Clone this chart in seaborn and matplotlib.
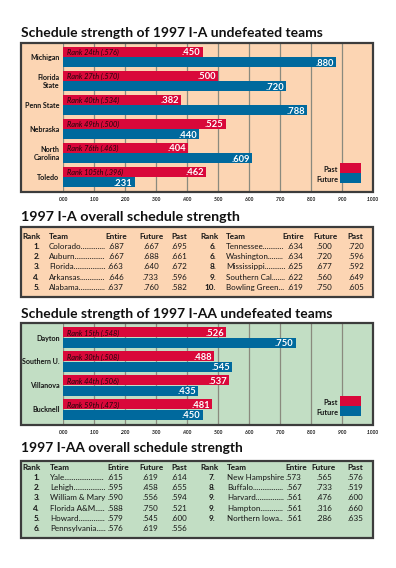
import numpy as np
import pandas as pd
import matplotlib
matplotlib.use('Agg')
import matplotlib.pyplot as plt
import seaborn as sns
from matplotlib import font_manager as fm
from matplotlib.patches import Rectangle
from matplotlib.transforms import Affine2D

# ---------------- data ----------------
ia_teams = ["Michigan", "Florida\nState", "Penn State", "Nebraska", "North\nCarolina", "Toledo"]
ia_past = [0.450, 0.500, 0.382, 0.525, 0.404, 0.462]
ia_future = [0.880, 0.720, 0.788, 0.440, 0.609, 0.231]
ia_rank = ["Rank 24th (.576)", "Rank 27th (.570)", "Rank 40th (.534)",
           "Rank 49th (.500)", "Rank 76th (.463)", "Rank 105th (.396)"]

iaa_teams = ["Dayton", "Southern U.", "Villanova", "Bucknell"]
iaa_past = [0.526, 0.488, 0.537, 0.481]
iaa_future = [0.750, 0.545, 0.435, 0.450]
iaa_rank = ["Rank 15th (.548)", "Rank 30th (.508)", "Rank 44th (.506)", "Rank 59th (.473)"]

tick_values = [0.0, 0.1, 0.2, 0.3, 0.4, 0.5, 0.6, 0.7, 0.8, 0.9, 1.0]
tick_labels = [".000", ".100", ".200", ".300", ".400", ".500", ".600", ".700", ".800", ".900", ".1000"]

series_names = ["Past", "Future"]

ia_tbl_rank = ["1.", "2.", "3.", "4.", "5.", "6.", "6.", "8.", "9.", "10."]
ia_tbl_team = ["Colorado", "Auburn", "Florida", "Arkansas", "Alabama",
               "Tennessee", "Washington", "Mississippi", "Southern Cal", "Bowling Green"]
ia_tbl_entire = [0.687, 0.667, 0.663, 0.646, 0.637, 0.634, 0.634, 0.625, 0.622, 0.619]
ia_tbl_future = [0.667, 0.688, 0.640, 0.733, 0.760, 0.500, 0.720, 0.677, 0.560, 0.750]
ia_tbl_past = [0.695, 0.661, 0.672, 0.596, 0.582, 0.720, 0.596, 0.592, 0.649, 0.605]

iaa_tbl_rank = ["1.", "2.", "3.", "4.", "5.", "6.", "7.", "8.", "9.", "9.", "9."]
iaa_tbl_team = ["Yale", "Lehigh", "William & Mary", "Florida A&M", "Howard", "Pennsylvania",
                "New Hampshire", "Buffalo", "Harvard", "Hampton", "Northern Iowa"]
iaa_tbl_entire = [0.615, 0.595, 0.590, 0.588, 0.579, 0.576, 0.573, 0.567, 0.561, 0.561, 0.561]
iaa_tbl_future = [0.619, 0.458, 0.556, 0.750, 0.545, 0.619, 0.565, 0.733, 0.476, 0.316, 0.286]
iaa_tbl_past = [0.614, 0.655, 0.594, 0.521, 0.600, 0.556, 0.576, 0.519, 0.600, 0.660, 0.635]

titles = ["Schedule strength of 1997 I-A undefeated teams",
          "1997 I-A overall schedule strength",
          "Schedule strength of 1997 I-AA undefeated teams",
          "1997 I-AA overall schedule strength"]
headers = ["Rank", "Team", "Entire", "Future", "Past"]

# ---------------- style ----------------
sns.set_theme(style='white')
names = {f.name for f in fm.fontManager.ttflist}


def pick(*cands):
    for c in cands:
        if c in names:
            return c
    return 'DejaVu Sans'


HUM = pick('Lato', 'Open Sans', 'Noto Sans', 'DejaVu Sans')
plt.rcParams['font.family'] = [HUM, 'DejaVu Sans']

RED = '#D9083A'
BLUE = '#00699D'
PEACH = '#FCD5B3'
GREEN = '#C2DEC4'
EDGE = '#3c3c3c'
GRID = '#8a8a7e'
INK = '#161616'

W, H = 396, 568
fig = plt.figure(figsize=(W / 100, H / 100), dpi=100, facecolor='white')
PX = Affine2D().scale(1 / W, -1 / H).translate(0, 1) + fig.transFigure
REN = fig.canvas.get_renderer()


def tw(s, **kw):
    t = fig.text(0, 0, s, **kw)
    w = t.get_window_extent(REN).width
    t.remove()
    return w


def fit(s, target, **kw):
    return 10.0 * target / tw(s, fontsize=10, **kw)


def put(x, y, s, **kw):
    kw.setdefault('va', 'baseline')
    kw.setdefault('color', INK)
    return fig.text(x, y, s, transform=PX, **kw)


def frame(x0, y0, x1, y1, fc):
    fig.add_artist(Rectangle((x0, y0), x1 - x0, y1 - y0, transform=PX,
                             facecolor=fc, edgecolor='none', zorder=-5))
    fig.add_artist(Rectangle((x0, y0), x1 - x0, y1 - y0, transform=PX,
                             facecolor='none', edgecolor=EDGE, lw=1.6, zorder=5))


def fmt(v):
    return f"{v:.3f}"[1:]


fs_tick = fit('.500', 9.5, fontweight='bold')
fs_val = fit('.880', 18.5, fontweight='bold')
fs_team = fit('Penn State', 35, fontweight='bold')
fs_rank = fit('Rank 24th (.576)', 52, style='italic')
fs_leg = fit('Future', 22, fontweight='bold')
fs_row = fit('Colorado', 32.5)
fs_hdr = fit('Entire', 22, fontweight='bold')


def bar_chart(top, bottom, teams, past, future, ranks, first_c, leg_top, spacing=24.0):
    n = len(teams)
    ax = fig.add_axes([63 / W, 1 - bottom / H, 310 / W, (bottom - top) / H])
    ax.set_facecolor('none')
    df = pd.DataFrame({'team': teams * 2,
                       'series': [series_names[0]] * n + [series_names[1]] * n,
                       'value': past + future})
    sns.barplot(data=df, x='value', y='team', hue='series', hue_order=series_names,
                palette={series_names[0]: RED, series_names[1]: BLUE}, orient='h',
                width=0.84, gap=0, saturation=1, errorbar=None, legend=False, ax=ax,
                linewidth=0)
    ax.set_xlim(0, 1)
    last_c = first_c + (n - 1) * spacing
    ax.set_ylim((n - 1) + (bottom - last_c) / spacing, -(first_c - top) / spacing)
    ax.set_xticks(tick_values)
    ax.set_xticklabels(tick_labels)
    ax.grid(axis='x', color=GRID, linewidth=0.9)
    ax.grid(axis='y', visible=False)
    ax.set_axisbelow(True)
    for s in ax.spines.values():
        s.set_visible(False)
    ax.set_xlabel('')
    ax.set_ylabel('')
    ax.tick_params(axis='x', length=0, pad=3.5, labelsize=fs_tick, labelcolor=INK)
    ax.tick_params(axis='y', length=0, pad=2.5, labelsize=fs_team, labelcolor=INK)
    for lbl in ax.get_xticklabels():
        lbl.set_fontweight('bold')
    for lbl in ax.get_yticklabels():
        lbl.set_fontweight('bold')
        lbl.set_multialignment('right')
        lbl.set_linespacing(1.0)
    off = 0.84 / 4
    for i in range(n):
        ax.annotate(fmt(past[i]), xy=(past[i], i - off), xytext=(-2, 0),
                    textcoords='offset pixels', ha='right', va='center_baseline',
                    color='white', fontweight='bold', fontsize=fs_val)
        ax.annotate(fmt(future[i]), xy=(future[i], i + off), xytext=(-2, 0),
                    textcoords='offset pixels', ha='right', va='center_baseline',
                    color='white', fontweight='bold', fontsize=fs_val)
        ax.annotate(ranks[i], xy=(0, i - off), xytext=(4, 0),
                    textcoords='offset pixels', ha='left', va='center_baseline',
                    color='#1e0509', style='italic', fontsize=fs_rank)
    # legend
    for k, (lab, col) in enumerate(zip(series_names, [RED, BLUE])):
        fig.add_artist(Rectangle((340, leg_top + 10 * k), 21, 10, transform=PX,
                                 facecolor=col, edgecolor='none', zorder=6))
        put(338, leg_top + 9 + 10 * k, lab, ha='right', fontweight='bold', fontsize=fs_leg)
    return ax


def table(rows_y, hdr_y, halves, rank, team, ent, fut, pst):
    dot_w = tw('.' * 20, fontsize=fs_row) / 20
    for (a, b, c) in halves:
        put(c['rank_hr'], hdr_y, headers[0], ha='right', fontweight='bold', fontsize=fs_hdr)
        put(c['team'], hdr_y, headers[1], ha='left', fontweight='bold', fontsize=fs_hdr)
        put(c['ent_h'], hdr_y, headers[2], ha='center', fontweight='bold', fontsize=fs_hdr)
        put(c['fut_h'], hdr_y, headers[3], ha='center', fontweight='bold', fontsize=fs_hdr)
        put(c['past_h'], hdr_y, headers[4], ha='center', fontweight='bold', fontsize=fs_hdr)
        for j, i in enumerate(range(a, b)):
            y = rows_y + 10.2 * j
            put(c['rank_nr'], y, rank[i], ha='right', fontweight='bold', fontsize=fs_hdr)
            name_w = tw(team[i], fontsize=fs_row)
            x_end = c['ent_v'] - 9.5
            nd = int((x_end - c['team'] - name_w) / dot_w)
            s = team[i] + ('.' * nd if nd > 0 else '')
            put(c['team'], y, s, ha='left', fontsize=fs_row)
            put(c['ent_v'], y, fmt(ent[i]), ha='center', fontsize=fs_row)
            put(c['fut_v'], y, fmt(fut[i]), ha='center', fontsize=fs_row)
            put(c['past_v'], y, fmt(pst[i]), ha='center', fontsize=fs_row)


# ---------------- titles ----------------
title_w = [301, 219, 312, 221]
title_y = [37, 221, 318, 452]
for t, w, y in zip(titles, title_w, title_y):
    put(21, y, t, fontweight='bold', fontsize=fit(t, w, fontweight='bold'), color='#111111')

# ---------------- I-A chart ----------------
frame(21, 43, 373, 192, PEACH)
bar_chart(43, 192, ia_teams, ia_past, ia_future, ia_rank, first_c=57, leg_top=163)

# ---------------- I-A table ----------------
frame(21, 227, 373, 297, PEACH)
table(249, 239,
      [(0, 5, dict(rank_hr=41, rank_nr=40, team=49, ent_h=116, ent_v=116, fut_h=151.5, fut_v=151,
                   past_h=179.5, past_v=179)),
       (5, 10, dict(rank_hr=219, rank_nr=216, team=226, ent_h=293, ent_v=295, fut_h=325,
                    fut_v=324, past_h=355.5, past_v=356.5))],
      ia_tbl_rank, ia_tbl_team, ia_tbl_entire, ia_tbl_future, ia_tbl_past)

# ---------------- I-AA chart ----------------
frame(21, 323, 373, 425, GREEN)
bar_chart(323, 425, iaa_teams, iaa_past, iaa_future, iaa_rank, first_c=337.5, leg_top=396)

# ---------------- I-AA table ----------------
frame(21, 461, 373, 538, GREEN)
table(480, 470,
      [(0, 6, dict(rank_hr=41, rank_nr=40, team=50, ent_h=118, ent_v=115.5, fut_h=151.5, fut_v=150,
                   past_h=179.5, past_v=179)),
       (6, 11, dict(rank_hr=219, rank_nr=215, team=227, ent_h=296, ent_v=294, fut_h=324,
                    fut_v=324.5, past_h=355, past_v=355))],
      iaa_tbl_rank, iaa_tbl_team, iaa_tbl_entire, iaa_tbl_future, iaa_tbl_past)

fig.savefig('out.png', dpi=100, facecolor='white')
